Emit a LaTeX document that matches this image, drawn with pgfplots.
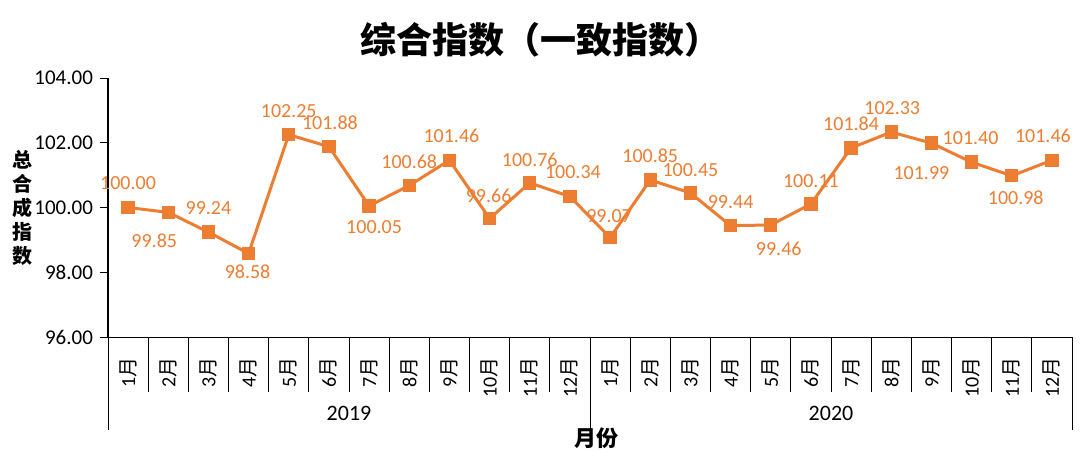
\documentclass[border=0pt]{standalone}
\usepackage{fontspec}
\setmainfont{Carlito}
\newfontfamily\cjk{Noto Sans CJK SC}
\usepackage{pgfplots}
\usepackage{pgfplotstable}
\pgfplotsset{compat=1.18}
\definecolor{exOrange}{HTML}{ED7D31}
\newcommand{\yue}{{\cjk 月}}

% x = month index, y = index value, dx/dy = label offset (pt)
\pgfplotstableread{
x  y       dx    dy
0  100.00  0     12
1  99.85   -7    -14
2  99.24   0     12
3  98.58   -0.5  -9
4  102.25  0     12
5  101.88  0.5   12
6  100.05  2.5   -10.5
7  100.68  0     12
8  101.46  1     12
9  99.66   -0.5  11.5
10 100.76  0     11.5
11 100.34  1.5   12
12 99.07   -0.5  11
13 100.85  0     12
14 100.45  0     11.5
15 99.44   0     12
16 99.46   4     -12
17 100.11  0     11.5
18 101.84  0     12
19 102.33  0.5   12
20 101.99  -5    -15
21 101.40  -0.5  12
22 100.98  2     -11
23 101.46  -4.5  12
}\zonghe

\begin{document}
\begin{tikzpicture}
\useasboundingbox (0,0) rectangle (540pt,-228pt);
\begin{axis}[
  at={(54pt,-168.5pt)}, anchor=south west,
  scale only axis, width=482pt, height=129.5pt,
  xmin=-0.5, xmax=23.5, ymin=96, ymax=104,
  axis lines=left, axis line style={-, line width=0.5pt, draw=black},
  ytick={96,98,100,102,104},
  yticklabel style={font=\fontsize{10.5}{12}\selectfont,
    /pgf/number format/.cd, fixed, zerofill, precision=2},
  /pgf/number format/assume math mode=true,
  tick align=outside, major tick length=4pt,
  ytick style={line width=0.5pt, draw=black},
  xtick={0,...,23}, xtick style={draw=none},
  xticklabels={1\yue,2\yue,3\yue,4\yue,5\yue,6\yue,7\yue,8\yue,9\yue,10\yue,11\yue,12\yue,
               1\yue,2\yue,3\yue,4\yue,5\yue,6\yue,7\yue,8\yue,9\yue,10\yue,11\yue,12\yue},
  xticklabel style={rotate=90, anchor=east, font=\fontsize{10}{12}\selectfont},
  xticklabel shift=2.5pt,
  clip=false,
]
\addplot[exOrange, line width=1.5pt, mark=square*, mark size=2.6pt,
  point meta=y,
  visualization depends on={\thisrow{dx} \as \labdx},
  visualization depends on={\thisrow{dy} \as \labdy},
  nodes near coords={\pgfmathprintnumber[fixed,zerofill,precision=2]{\pgfplotspointmeta}},
  nodes near coords style={anchor=center, text=exOrange,
    font=\fontsize{10}{12}\selectfont, xshift=\labdx pt, yshift=\labdy pt},
] table[x=x, y=y] {\zonghe};
\end{axis}
\begin{scope}[x=0.5pt, y=-0.5pt, line width=0.5pt]
  \foreach \k in {1,...,11,13,14,...,23}
    \draw (108+\k*40.1667,337) -- ++(0,55);
  \foreach \xx in {108,590,1072}
    \draw (\xx,337) -- (\xx,430);
  \node[font=\fontsize{11}{13}\selectfont] at (349,413) {2019};
  \node[font=\fontsize{11}{13}\selectfont] at (831,413) {2020};
  \node[font=\cjk\bfseries\fontsize{11}{13}\selectfont] at (596,438) {月份};
  \node[font=\cjk\bfseries\fontsize{18}{21}\selectfont] at (540,40) {综合指数（一致指数）};
  \node[font=\cjk\bfseries\fontsize{10}{12}\selectfont, align=center] at (22,208)
    {总\\合\\成\\指\\数};
\end{scope}
\end{tikzpicture}
\end{document}
